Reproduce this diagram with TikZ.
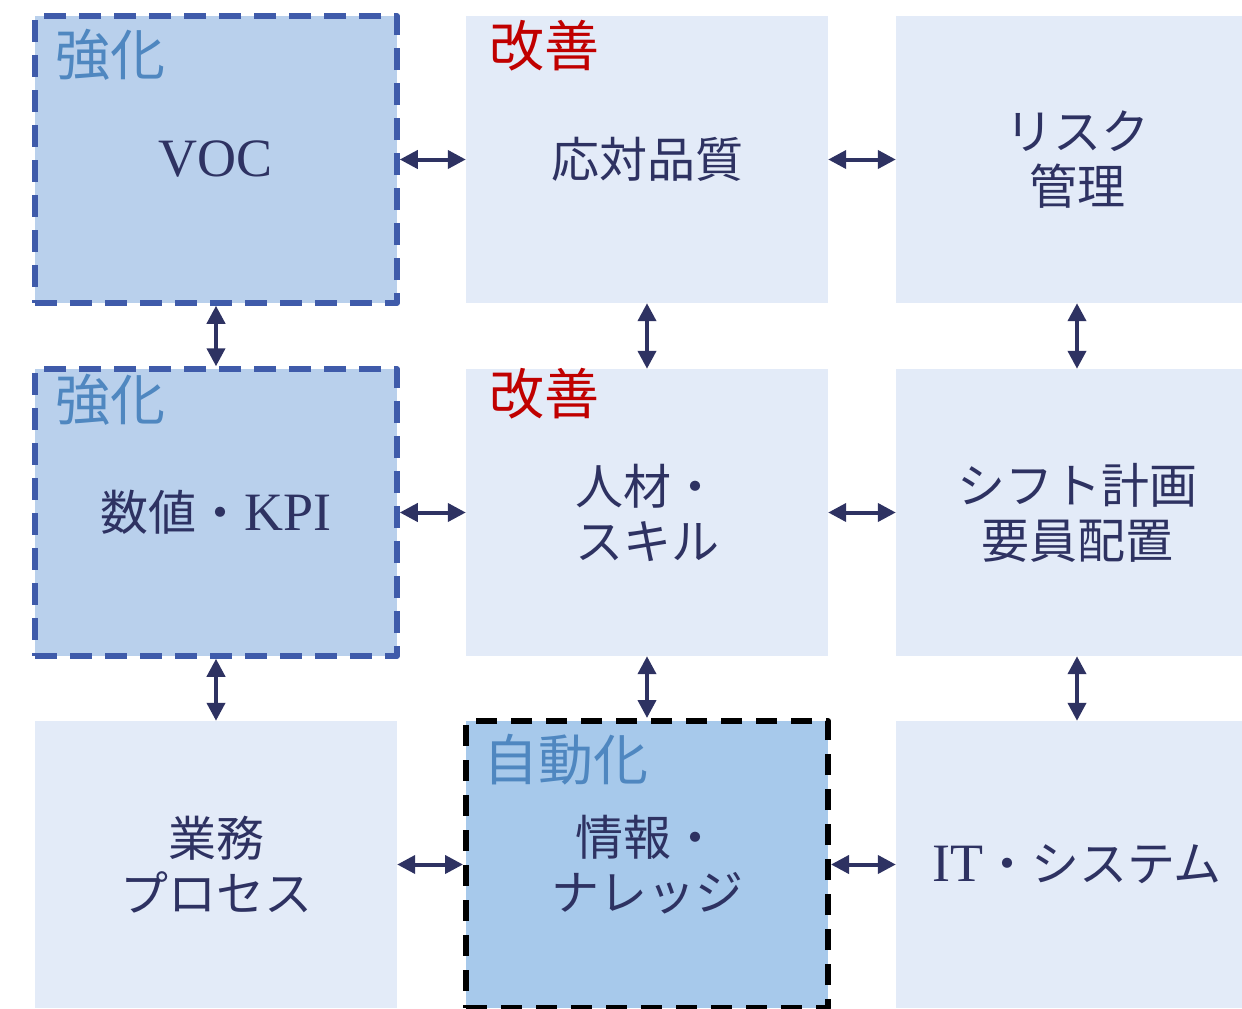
\documentclass[tikz,border=0pt]{standalone}
\usepackage{fontspec}
\setmainfont{Liberation Serif}
\newfontfamily\jp{Noto Sans CJK JP}
\usetikzlibrary{arrows.meta}
\definecolor{boxlight}{HTML}{E3EBF8}
\definecolor{boxstrong}{HTML}{B9D0EC}
\definecolor{boxauto}{HTML}{A7C9EB}
\definecolor{bluedash}{HTML}{3F5BAA}
\definecolor{navy}{HTML}{2E3262}
\definecolor{tagblue}{HTML}{4F87C0}
\definecolor{tagred}{HTML}{C00000}
\newcommand{\latinbig}{\fontsize{54}{57}\selectfont}
\tikzset{
  cell/.style={rectangle, minimum width=362pt, minimum height=287pt, inner sep=0pt,
    text=navy, align=center, font=\fontsize{48}{57}\selectfont},
  lightcell/.style={cell, fill=boxlight, draw=none},
  strongcell/.style={cell, fill=boxstrong, draw=bluedash, line width=5.5pt, dash pattern=on 22pt off 13pt, line join=round},
  autocell/.style={cell, fill=boxauto, draw=black, line width=6pt, dash pattern=on 21pt off 14pt, line join=round},
  tag/.style={anchor=base west, inner sep=0pt, font=\jp\fontsize{55}{60}\selectfont},
  link/.style={draw=navy, line width=4pt, {Triangle[length=18pt,width=18pt]}-{Triangle[length=18pt,width=18pt]}}
}
\begin{document}
\begin{tikzpicture}[x=1pt,y=-1pt]
\useasboundingbox (0,0) rectangle (1242,1009);
\clip (0,0) rectangle (1242,1009);
% row 1
\node[strongcell] (voc) at (216,159.5) {\latinbig VOC};
\node[lightcell] (resp) at (647,159.5) {\jp 応対品質};
\node[lightcell] (risk) at (1077,159.5) {\jp リスク\\[-2pt]\jp 管理};
% row 2
\node[strongcell] (kpi) at (216,512.5) {{\jp 数値・}{\latinbig KPI}};
\node[lightcell] (hr) at (647,512.5) {\jp 人材・\\[-2pt]\jp スキル};
\node[lightcell] (shift) at (1077,512.5) {\jp シフト計画\\[-2pt]\jp 要員配置};
% row 3
\node[lightcell] (proc) at (216,864.5) {\jp 業務\\[-2pt]\jp プロセス};
\node[autocell] (info) at (647,864.5) {\jp 情報・\\[-2pt]\jp ナレッジ};
\node[lightcell] (it) at (1077,864.5) {{\latinbig IT}{\jp ・システム}};
% tags
\node[tag, text=tagblue] (t1) at (55,75) {強化};
\node[tag, text=tagred] (t2) at (489,66) {改善};
\node[tag, text=tagblue] (t3) at (55,420) {強化};
\node[tag, text=tagred] (t4) at (489,414) {改善};
\node[tag, text=tagblue] (t5) at (483,780) {自動化};
% horizontal links
\draw[link] (voc.east) -- (resp.west);
\draw[link] (resp.east) -- (risk.west);
\draw[link] (kpi.east) -- (hr.west);
\draw[link] (hr.east) -- (shift.west);
\draw[link] (proc.east) -- (info.west);
\draw[link] (info.east) -- (it.west);
% vertical links
\draw[link] (voc.south) -- (kpi.north);
\draw[link] (kpi.south) -- (proc.north);
\draw[link] (resp.south) -- (hr.north);
\draw[link] (hr.south) -- (info.north);
\draw[link] (risk.south) -- (shift.north);
\draw[link] (shift.south) -- (it.north);
\end{tikzpicture}
\end{document}
